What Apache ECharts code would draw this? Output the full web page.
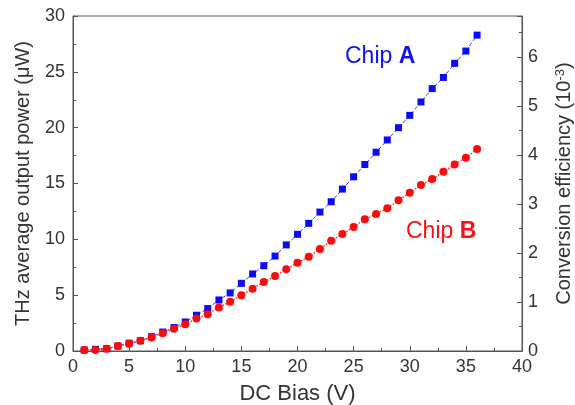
<!DOCTYPE html>
<html>
<head>
<meta charset="utf-8">
<script src="https://cdn.jsdelivr.net/npm/echarts@6/dist/echarts.min.js"></script>
<style>
  html, body { margin: 0; padding: 0; background: #fff; }
  #main { width: 575px; height: 405px; }
</style>
</head>
<body>
<div id="main"></div>
<script>
  // DC bias (V)
  var bias = [1, 2, 3, 4, 5, 6, 7, 8, 9, 10, 11, 12, 13, 14, 15, 16, 17, 18,
              19, 20, 21, 22, 23, 24, 25, 26, 27, 28, 29, 30, 31, 32, 33, 34, 35, 36];
  // THz average output power (uW)
  var chipA = [0.09, 0.15, 0.2, 0.45, 0.7, 0.92, 1.28, 1.7, 2.1, 2.6, 3.2, 3.8,
               4.57, 5.2, 6.06, 6.9, 7.64, 8.5, 9.5, 10.45, 11.43, 12.44, 13.37, 14.5,
               15.6, 16.7, 17.8, 18.9, 20.0, 21.1, 22.3, 23.5, 24.5, 25.76, 26.86, 28.29];
  var chipB = [0.08, 0.1, 0.2, 0.45, 0.65, 0.92, 1.2, 1.6, 2.0, 2.4, 2.9, 3.3,
               3.9, 4.4, 5.0, 5.58, 6.18, 6.71, 7.31, 7.9, 8.44, 9.13, 9.87, 10.47,
               11.1, 11.8, 12.26, 12.78, 13.5, 14.17, 14.86, 15.4, 16.05, 16.7, 17.3, 18.08];
  // right axis range (10^-3), same span as 0..30 uW
  var effMax = 6.84;

  var font = 'Liberation Sans, Arial, sans-serif';
  var textColor = '#333';
  var lineColor = '#555';

  function pairs(xs, ys) {
    return xs.map(function (x, i) { return [x, ys[i]]; });
  }

  var myChart = echarts.init(document.getElementById('main'));
  myChart.setOption({
    animation: false,
    textStyle: { fontFamily: font },
    grid: {
      left: 73, right: 53, top: 16, bottom: 54,
      outerBoundsMode: 'none',
      show: true, borderColor: lineColor, borderWidth: 1
    },
    xAxis: {
      type: 'value',
      min: 0, max: 40, interval: 5,
      name: 'DC Bias (V)',
      nameLocation: 'middle',
      nameGap: 32,
      nameTextStyle: { fontSize: 22, color: textColor, fontFamily: font },
      axisLine: { lineStyle: { color: lineColor } },
      axisTick: { inside: true, length: 5, lineStyle: { color: lineColor } },
      minorTick: { show: true, splitNumber: 2, length: 3, lineStyle: { color: lineColor } },
      axisLabel: { fontSize: 18, color: textColor, margin: 7, fontFamily: font },
      splitLine: { show: false }
    },
    yAxis: [{
      type: 'value',
      min: 0, max: 30, interval: 5,
      name: 'THz average output power (μW)',
      nameLocation: 'middle',
      nameRotate: 90,
      nameGap: 40,
      nameTextStyle: { fontSize: 20, color: textColor, fontFamily: font },
      axisLine: { show: true, lineStyle: { color: lineColor } },
      axisTick: { inside: true, length: 5, lineStyle: { color: lineColor } },
      minorTick: { show: true, splitNumber: 2, length: 3, lineStyle: { color: lineColor } },
      axisLabel: { fontSize: 18, color: textColor, margin: 8, fontFamily: font },
      splitLine: { show: false }
    }, {
      type: 'value',
      position: 'right',
      min: 0, max: effMax, interval: 1,
      name: '{n|Conversion efficiency (10}{s|-3}{n|)}',
      nameLocation: 'middle',
      nameRotate: 90,
      nameGap: 32,
      nameTextStyle: {
        color: textColor,
        rich: {
          n: { fontSize: 20, color: textColor, fontFamily: font },
          s: { fontSize: 13, color: textColor, fontFamily: font, verticalAlign: 'top' }
        }
      },
      axisLine: { show: true, lineStyle: { color: lineColor } },
      axisTick: { inside: true, length: 5, lineStyle: { color: lineColor } },
      minorTick: { show: true, splitNumber: 2, length: 3, lineStyle: { color: lineColor } },
      axisLabel: {
        fontSize: 18, color: textColor, margin: 6, fontFamily: font,
        showMaxLabel: false
      },
      splitLine: { show: false }
    }],
    graphic: [{
      type: 'text',
      left: 345, top: 45,
      style: {
        text: '{n|Chip }{b|A}',
        rich: {
          n: { fontSize: 23, fill: '#1010ff', fontFamily: font },
          b: { fontSize: 23, fill: '#1010ff', fontFamily: font, fontWeight: 'bold' }
        }
      }
    }, {
      type: 'text',
      left: 406, top: 220,
      style: {
        text: '{n|Chip }{b|B}',
        rich: {
          n: { fontSize: 23, fill: '#ff1010', fontFamily: font },
          b: { fontSize: 23, fill: '#ff1010', fontFamily: font, fontWeight: 'bold' }
        }
      }
    }],
    series: [{
      name: 'Chip A',
      type: 'line',
      data: pairs(bias, chipA),
      symbol: 'rect',
      symbolSize: 7,
      itemStyle: { color: '#0a0aff' },
      lineStyle: { color: '#4040ff', width: 1, type: 'dashed' }
    }, {
      name: 'Chip B',
      type: 'line',
      data: pairs(bias, chipB),
      symbol: 'circle',
      symbolSize: 8,
      itemStyle: { color: '#ff0a0a' },
      lineStyle: { color: '#ff3030', width: 1.5, type: 'dotted' }
    }]
  });
</script>
</body>
</html>
